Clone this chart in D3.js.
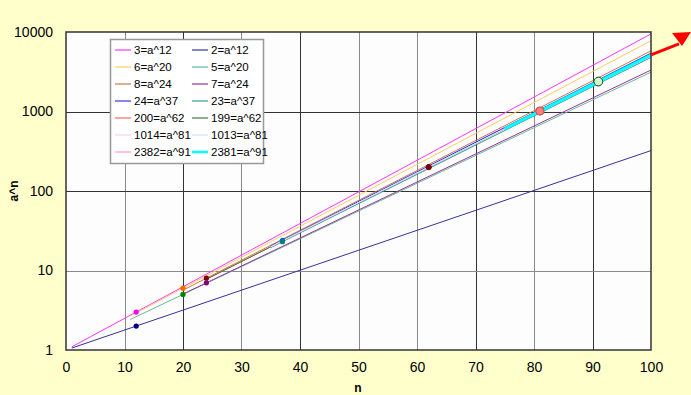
<!DOCTYPE html>
<html><head><meta charset="utf-8">
<script src="https://cdn.jsdelivr.net/npm/d3@7"></script>
<style>body{margin:0;background:#FFFFCC;} svg{display:block;font-family:"Liberation Sans",Arial,sans-serif;}</style>
</head><body>
<script>
const labels = ["3=a^12","2=a^12","6=a^20","5=a^20","8=a^24","7=a^24","24=a^37","23=a^37","200=a^62","199=a^62","1014=a^81","1013=a^81","2382=a^91","2381=a^91"];
const startN = [1,1,11,11,20,20,35,35,24,24,35,35,75,75];
const startV = [1.096,1.059,2.679,2.423,5.657,5.061,20.21,19.41,7.77,7.76,19.9,19.89,607.3,607];
const markN = [12,12,20,20,24,24,37,37,62,62,81,81,91,91];
const markV = [3,2,6,5,8,7,24,23,200,199,1014,1013,2382,2381];
const endN = [100,100,100,100,100,100,100,100,100,100,100,100,100,100];
const endV = [9470,322.5,7776,3125,5793,3324,5372,4788,5145,5104,5140,5134,5137,5133];
const xTicks = [0,10,20,30,40,50,60,70,80,90,100];
const yTicks = [1,10,100,1000,10000];

const lineColors = ["#FF33FF","#333399","#FFCC66","#66BB99","#CC7744","#993399","#3333FF","#339999","#FF6666","#447744","#FFCCEE","#CCE5EE","#FF99CC","#00FFFF"];
const lineWidths = [1,1,1,1,1,1,1.4,1,1,1,1,1,1,3];
const markFill = ["#FF00FF","#000080","#FF6600","#008000","#800000","#800080","#0066CC","#008080","#000000","#800000","#FF8080","#FF8080","#CCFFCC","#CCFFCC"];
const markStroke = ["none","none","none","none","none","none","none","none","#800000","none","#CC5050","#CC5050","#335533","#335533"];
const markR = [2.6,2.6,2.6,2.6,2.6,2.6,2.6,2.6,2.6,2.6,4,4,4.3,4.3];
const vGridColor = {10:"#8a8a8a",20:"#333",30:"#8a8a8a",40:"#333",50:"#8a8a8a",60:"#8a8a8a",70:"#333",80:"#8a8a8a",90:"#333"};
const hGridColor = {10:"#8a8a8a",100:"#333",1000:"#333"};

const W=691,H=395;
const svg=d3.select("body").append("svg").attr("width",W).attr("height",H);
svg.append("rect").attr("width",W).attr("height",H).attr("fill","#FFFFCC");
const x=d3.scaleLinear().domain([0,100]).range([66,651]);
const y=d3.scaleLog().domain([1,10000]).range([350,32]);

svg.append("rect").attr("x",x(0)).attr("y",y(10000)).attr("width",x(100)-x(0)).attr("height",y(1)-y(10000)).attr("fill","#FDFDFD");

// grid
const g=svg.append("g").attr("shape-rendering","crispEdges");
g.selectAll(".vg").data(xTicks.slice(1,-1)).join("line")
 .attr("x1",d=>Math.round(x(d))+0.5).attr("x2",d=>Math.round(x(d))+0.5).attr("y1",y(10000)).attr("y2",y(1))
 .attr("stroke",d=>vGridColor[d]).attr("stroke-width",1);
g.selectAll(".hg").data(yTicks.slice(1,-1)).join("line")
 .attr("x1",x(0)).attr("x2",x(100)).attr("y1",d=>Math.round(y(d))+0.5).attr("y2",d=>Math.round(y(d))+0.5)
 .attr("stroke",d=>hGridColor[d]).attr("stroke-width",1);

// lines
const lineGen=d3.line().x(d=>x(d[0])).y(d=>y(d[1]));
labels.forEach((l,i)=>{
  const pts=[[startN[i],startV[i]],[markN[i],markV[i]],[endN[i],endV[i]]];
  svg.append("path").attr("d",lineGen(pts)).attr("fill","none")
    .attr("stroke",lineColors[i]).attr("stroke-width",lineWidths[i]);
});
labels.forEach((l,i)=>{
  svg.append("circle").attr("cx",x(markN[i])).attr("cy",y(markV[i])).attr("r",markR[i])
   .attr("fill",markFill[i]).attr("stroke",markStroke[i]).attr("stroke-width",1);
});

// border
svg.append("rect").attr("x",x(0)).attr("y",y(10000)).attr("width",x(100)-x(0)).attr("height",y(1)-y(10000))
 .attr("fill","none").attr("stroke","#333").attr("stroke-width",1.5);

// axes labels
const xa=svg.append("g").attr("transform",`translate(0,${y(1)})`)
 .call(d3.axisBottom(x).tickValues(xTicks).tickSize(0).tickPadding(12).tickFormat(d3.format("d")));
xa.select(".domain").remove();
xa.selectAll("text").attr("font-size",14).attr("fill","#000").attr("font-family","Liberation Sans, Arial, sans-serif");
const ya=svg.append("g").attr("transform",`translate(${x(0)},0)`)
 .call(d3.axisLeft(y).tickValues(yTicks).tickSize(0).tickPadding(13).tickFormat(d3.format("d")));
ya.select(".domain").remove();
ya.selectAll("text").attr("font-size",14).attr("fill","#000").attr("font-family","Liberation Sans, Arial, sans-serif");

svg.append("text").attr("x",358).attr("y",392).attr("text-anchor","middle")
 .attr("font-size",12).attr("font-weight","bold").text("n");
svg.append("text").attr("transform","translate(18,191) rotate(-90)").attr("text-anchor","middle")
 .attr("font-size",12).attr("font-weight","bold").text("a^n");

// legend
const lg=svg.append("g");
lg.append("rect").attr("x",110.5).attr("y",39.5).attr("width",153).attr("height",124)
 .attr("fill","#FFFFFF").attr("stroke","#999").attr("stroke-width",1.5);
labels.forEach((l,i)=>{
  const col=i%2,row=Math.floor(i/2);
  const lx=col?192:115, ly=50+row*17;
  lg.append("line").attr("x1",lx).attr("x2",lx+16).attr("y1",ly).attr("y2",ly)
   .attr("stroke",lineColors[i]).attr("stroke-width",lineWidths[i]===3?2.5:1.2);
  lg.append("text").attr("x",lx+19).attr("y",ly+4).attr("font-size",11.5).attr("fill","#000").text(l);
});

// red arrow annotation
const ax0=x(100), ay0=y(5140);
svg.append("line").attr("x1",ax0).attr("y1",ay0).attr("x2",ax0+28).attr("y2",ay0-11)
 .attr("stroke","#FF0000").attr("stroke-width",3);
svg.append("path").attr("d",`M${ax0+40},${ay0-23} L${ax0+21},${ay0-22} L${ax0+31},${ay0-9} Z`).attr("fill","#FF0000");
</script>
</body></html>
